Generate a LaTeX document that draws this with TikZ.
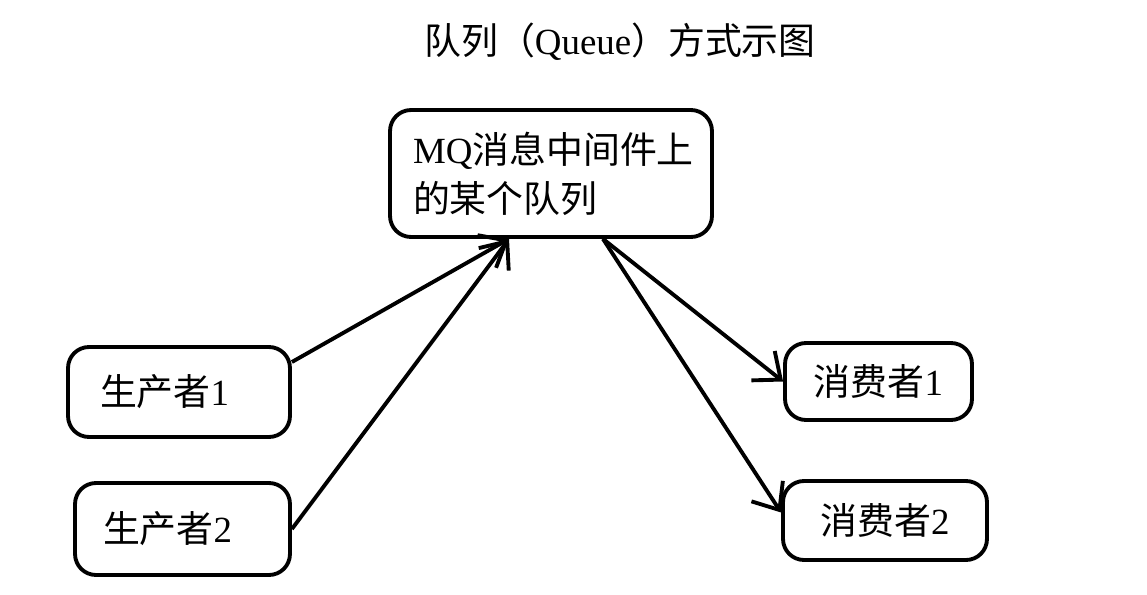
\documentclass[tikz,border=0pt]{standalone}
\usepackage{fontspec}
\setmainfont{Liberation Serif}
\newfontfamily\cjk{Noto Sans CJK SC}
\usetikzlibrary{arrows.meta}

\tikzset{
  box/.style={draw, line width=2.2pt, rounded corners=0.42cm, inner sep=0pt},
  flow/.style={-{Straight Barb[length=0.45cm, width=0.75cm, line width=2.2pt]}, line width=2.2pt}
}

\begin{document}
\begin{tikzpicture}[x=0.02cm, y=-0.02cm, font=\fontsize{21}{28}\selectfont]
\useasboundingbox (0,0) rectangle (1147,595);

\node (title) at (620,42) {{\cjk 队列（}Queue{\cjk ）方式示图}};

\node[box, minimum width=6.44cm, minimum height=2.54cm, text width=5.52cm, align=left] (queue) at (551,173.5)
  {MQ{\cjk 消息中间件上}\\{\cjk 的某个队列}};

\node[box, minimum height=1.8cm, inner xsep=0.64cm, text width=3.16cm, align=left] (prod1) at (179,392) {{\cjk 生产者}1};
\node[box, minimum height=1.84cm, inner xsep=0.56cm, text width=3.18cm, align=left] (prod2) at (182.5,529) {{\cjk 生产者}2};
\node[box, minimum width=3.74cm, minimum height=1.54cm] (cons1) at (878.5,381.5) {{\cjk 消费者}1};
\node[box, minimum width=4.08cm, minimum height=1.58cm] (cons2) at (885,520.5) {{\cjk 消费者}2};

\draw[flow] ([yshift=0.6cm]prod1.east) -- ([xshift=-0.84cm]queue.south);
\draw[flow] (prod2.east) -- ([xshift=-0.84cm]queue.south);
\draw[flow] ([xshift=1.04cm]queue.south) -- (cons1.west);
\draw[flow] ([xshift=1.04cm]queue.south) -- ([yshift=0.16cm]cons2.west);
\end{tikzpicture}
\end{document}
